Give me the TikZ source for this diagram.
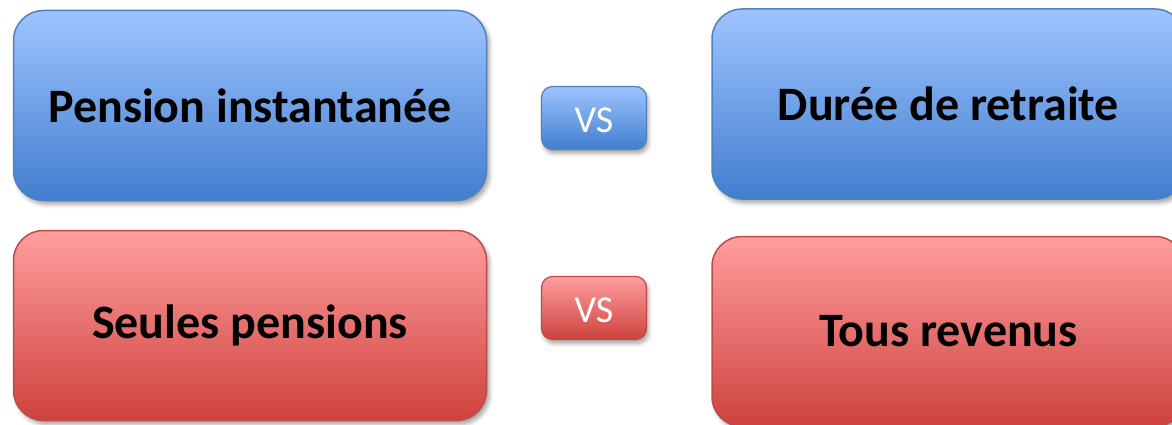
\documentclass[tikz,border=0pt]{standalone}
\usepackage{fontspec}
\setmainfont{Carlito}
\usetikzlibrary{shadows.blur}
\definecolor{blueTop}{RGB}{158,196,255}
\definecolor{blueBot}{RGB}{66,126,206}
\definecolor{blueLine}{RGB}{79,129,189}
\definecolor{redTop}{RGB}{255,158,158}
\definecolor{redBot}{RGB}{206,66,62}
\definecolor{redLine}{RGB}{190,75,72}
\begin{document}
\begin{tikzpicture}[x=1pt,y=-1pt,
    every node/.style={inner sep=0pt},
    bigbox/.style={minimum width=473pt,minimum height=190pt,rounded corners=30pt,
        line width=1.5pt,font=\fontsize{48}{54}\selectfont\bfseries,
        blur shadow={shadow xshift=3pt,shadow yshift=-4pt,shadow blur radius=4pt,shadow opacity=35}},
    vsbox/.style={minimum width=105pt,minimum height=63pt,rounded corners=11pt,
        line width=1.2pt,text=white,font=\fontsize{38}{42}\selectfont,text height=30pt,
        blur shadow={shadow xshift=2pt,shadow yshift=-4pt,shadow blur radius=4pt,shadow opacity=35}},
    bluefill/.style={draw=blueLine,top color=blueTop,bottom color=blueBot},
    redfill/.style={draw=redLine,top color=redTop,bottom color=redBot}]
    \useasboundingbox (0,0) rectangle (1172,425);
    % top row
    \node[bigbox,bluefill] (pension) at (250,105.5) {Pension instantanée};
    \node[vsbox,bluefill] (vstop) at (594,118) {VS};
    \node[bigbox,bluefill] (duree) at (948.5,104) {Durée de retraite};
    % bottom row
    \node[bigbox,redfill] (seules) at (250,325.5) {Seules pensions};
    \node[vsbox,redfill] (vsbot) at (594,308) {VS};
    \node[bigbox,redfill] (tous) at (948.5,331.5) {Tous revenus};
\end{tikzpicture}
\end{document}
